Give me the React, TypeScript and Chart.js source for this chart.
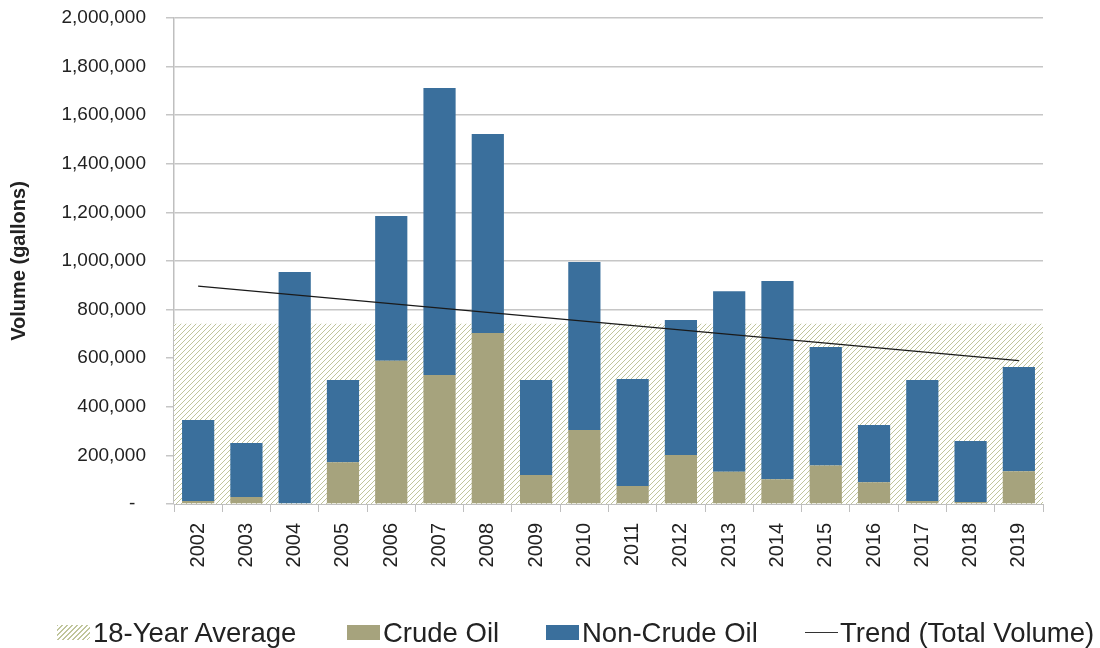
import React, { useEffect, useRef } from "react";
import { Chart, registerables } from "chart.js";

Chart.register(...registerables);

const years = [
  "2002", "2003", "2004", "2005", "2006", "2007", "2008", "2009", "2010",
  "2011", "2012", "2013", "2014", "2015", "2016", "2017", "2018", "2019",
];

const crudeOil = [
  12000, 29000, 3000, 172000, 590000, 531000, 704000, 119000, 305000,
  74000, 202000, 133000, 102000, 158000, 89000, 12000, 8000, 135000,
];

const nonCrudeOil = [
  334000, 222000, 952000, 338000, 595000, 1181000, 819000, 391000, 691000,
  440000, 555000, 743000, 816000, 488000, 236000, 498000, 251000, 429000,
];

const averageVolume = 742000;

const trendStart = 897000;
const trendEnd = 590000;

const legendLabels = ["18-Year Average", "Crude Oil", "Non-Crude Oil", "Trend (Total Volume)"];

const FONT = "'Liberation Sans', Arial, sans-serif";
const TEXT = "#222222";
const CRUDE = "#a6a37d";
const NONCRUDE = "#3a6f9c";
const HATCH = "#c0c59c";

function makeHatch(): CanvasPattern | string {
  const n = 5;
  const c = document.createElement("canvas");
  c.width = n;
  c.height = n;
  const ctx = c.getContext("2d");
  if (!ctx) return "#e4e6d6";
  ctx.fillStyle = "#ffffff";
  ctx.fillRect(0, 0, n, n);
  ctx.strokeStyle = HATCH;
  ctx.lineWidth = 1;
  ctx.beginPath();
  ctx.moveTo(0, n);
  ctx.lineTo(n, 0);
  ctx.moveTo(-1, 1);
  ctx.lineTo(1, -1);
  ctx.moveTo(n - 1, n + 1);
  ctx.lineTo(n + 1, n - 1);
  ctx.stroke();
  return ctx.createPattern(c, "repeat") || "#e4e6d6";
}

export default function App() {
  const ref = useRef<HTMLCanvasElement | null>(null);

  useEffect(() => {
    if (!ref.current) return;
    const hatch = makeHatch();
    const lastIndex = years.length - 1;
    const chart = new Chart(ref.current, {
      type: "bar",
      data: {
        labels: years,
        datasets: [
          {
            type: "line",
            label: legendLabels[0],
            data: [
              { x: -0.5, y: averageVolume },
              { x: lastIndex + 0.5, y: averageVolume },
            ],
            xAxisID: "xLin",
            yAxisID: "y",
            backgroundColor: hatch as any,
            borderWidth: 0,
            borderColor: "rgba(0,0,0,0)",
            pointRadius: 0,
            fill: "origin",
            stack: "avg",
            order: 10,
          } as any,
          {
            type: "bar",
            label: legendLabels[1],
            data: crudeOil,
            xAxisID: "x",
            yAxisID: "y",
            backgroundColor: CRUDE,
            borderWidth: 0,
            barPercentage: 0.667,
            categoryPercentage: 1,
            grouped: false,
            stack: "oil",
            order: 1,
          },
          {
            type: "bar",
            label: legendLabels[2],
            data: nonCrudeOil,
            xAxisID: "x",
            yAxisID: "y",
            backgroundColor: NONCRUDE,
            borderWidth: 0,
            barPercentage: 0.667,
            categoryPercentage: 1,
            grouped: false,
            stack: "oil",
            order: 2,
          },
          {
            type: "line",
            label: legendLabels[3],
            data: [
              { x: 0, y: trendStart },
              { x: lastIndex, y: trendEnd },
            ],
            xAxisID: "xLin",
            yAxisID: "y",
            borderColor: "#1a1a1a",
            borderWidth: 1.3,
            pointRadius: 0,
            fill: false,
            stack: "trend",
            order: 0,
          } as any,
        ],
      },
      options: {
        responsive: false,
        animation: false,
        devicePixelRatio: 1,
        layout: { padding: { left: 0, right: 57, top: 18, bottom: 0 }, autoPadding: false },
        plugins: {
          legend: { display: false },
          tooltip: { enabled: false },
        },
        scales: {
          x: {
            type: "category",
            stacked: true,
            offset: true,
            grid: {
              offset: true,
              drawOnChartArea: false,
              drawTicks: true,
              tickLength: 8,
              color: "#bfbfbf",
              lineWidth: 1,
            },
            border: { display: true, color: "#bfbfbf", width: 1 },
            ticks: {
              autoSkip: false,
              minRotation: 90,
              maxRotation: 90,
              padding: 11,
              color: TEXT,
              font: { family: FONT, size: 20 },
            },
            afterFit: (s: any) => {
              s.height = 144;
              s.paddingLeft = 0;
              s.paddingRight = 0;
            },
          },
          xLin: {
            type: "linear",
            axis: "x",
            position: "bottom",
            min: -0.5,
            max: lastIndex + 0.5,
            offset: false,
            display: false,
          },
          y: {
            stacked: true,
            min: 0,
            max: 2000000,
            ticks: {
              stepSize: 200000,
              padding: 20,
              color: TEXT,
              font: { family: FONT, size: 19 },
              callback: (v: any) => (Number(v) === 0 ? "-  " : Number(v).toLocaleString("en-US")),
            },
            grid: {
              color: "#c6c6c6",
              lineWidth: 1.5,
              tickLength: 8,
              drawTicks: true,
            },
            border: { display: true, color: "#bfbfbf", width: 1.5 },
            title: {
              display: true,
              text: "Volume (gallons)",
              color: TEXT,
              font: { family: FONT, size: 20, weight: "bold" },
              padding: { top: 7, bottom: 0 },
            },
            afterFit: (s: any) => {
              s.width = 174;
              s.paddingTop = 0;
              s.paddingBottom = 0;
            },
          },
        },
      } as any,
    });
    return () => chart.destroy();
  }, []);

  const itemStyle: React.CSSProperties = {
    position: "absolute",
    top: 619,
    height: 27,
    display: "flex",
    alignItems: "center",
    fontFamily: FONT,
    fontSize: 27.5,
    lineHeight: "27px",
    color: TEXT,
    whiteSpace: "nowrap",
  };
  const box = (bg: string): React.CSSProperties => ({
    width: 33,
    height: 15,
    background: bg,
    marginRight: 3,
    flex: "0 0 auto",
  });

  return (
    <div style={{ position: "fixed", left: 0, top: 0, width: 1100, height: 648, background: "#fff" }}>
      <canvas ref={ref} width={1100} height={648} style={{ display: "block" }} />
      <div style={{ ...itemStyle, left: 57 }}>
        <span
          style={{
            ...box("#fff"),
            backgroundImage: `repeating-linear-gradient(135deg, ${HATCH} 0px, ${HATCH} 1px, #ffffff 1px, #ffffff 3.5px)`,
          }}
        />
        <span>{legendLabels[0]}</span>
      </div>
      <div style={{ ...itemStyle, left: 347 }}>
        <span style={box(CRUDE)} />
        <span>{legendLabels[1]}</span>
      </div>
      <div style={{ ...itemStyle, left: 546 }}>
        <span style={box(NONCRUDE)} />
        <span>{legendLabels[2]}</span>
      </div>
      <div style={{ ...itemStyle, left: 805 }}>
        <span style={{ width: 33, height: 0, borderTop: "1.5px solid #333", marginRight: 2, flex: "0 0 auto" }} />
        <span>{legendLabels[3]}</span>
      </div>
    </div>
  );
}
